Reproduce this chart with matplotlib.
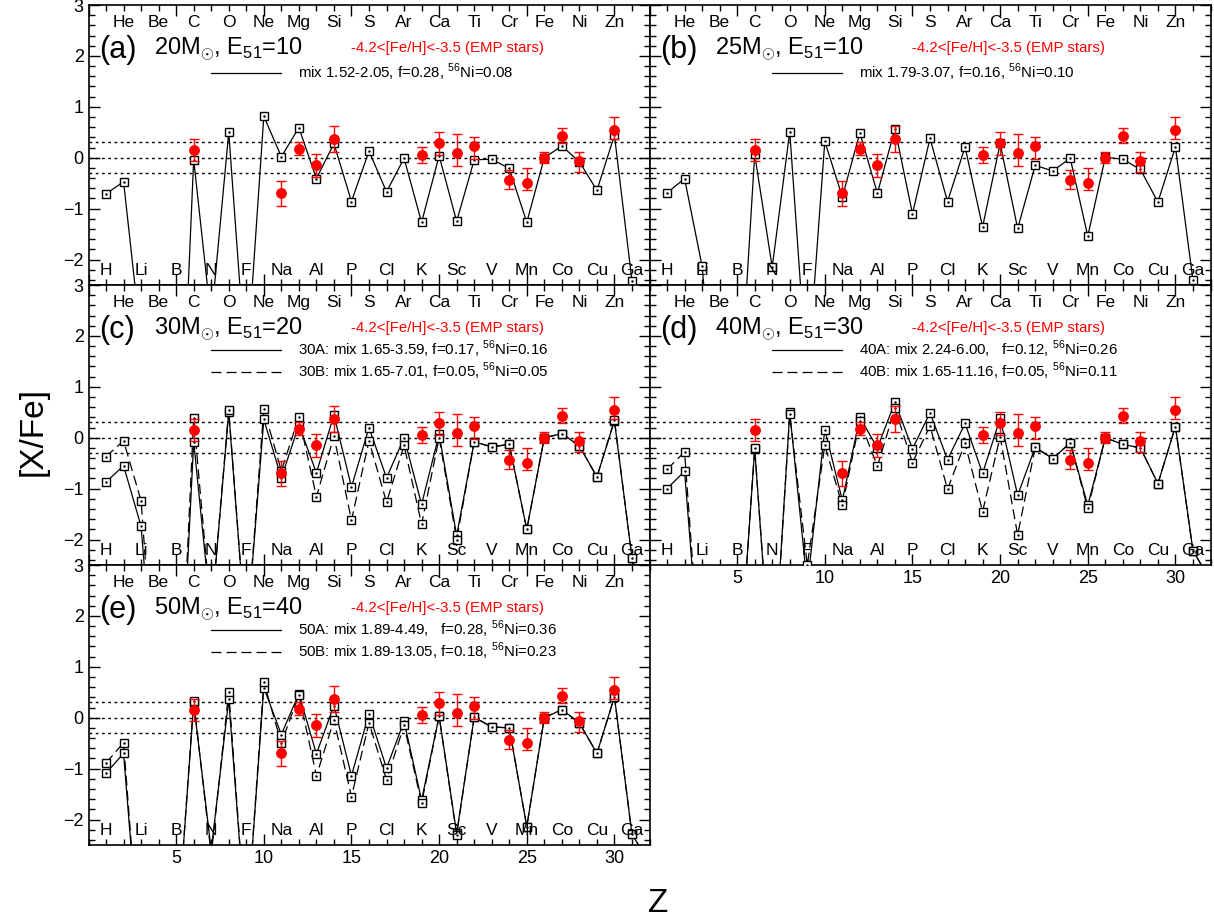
import matplotlib.pyplot as plt
from matplotlib.ticker import MultipleLocator

plt.rcParams['font.family'] = ['Liberation Sans', 'DejaVu Sans']
plt.rcParams['mathtext.fontset'] = 'custom'
plt.rcParams['mathtext.rm'] = 'Liberation Sans'

elements = ['H', 'He', 'Li', 'Be', 'B', 'C', 'N', 'O', 'F', 'Ne', 'Na', 'Mg', 'Al', 'Si', 'P',
            'S', 'Cl', 'Ar', 'K', 'Ca', 'Sc', 'Ti', 'V', 'Cr', 'Mn', 'Fe', 'Co', 'Ni', 'Cu',
            'Zn', 'Ga']
z = list(range(1, 33))  # H ... Ge (Ge only used so the line leaves the frame)

# EMP star average, -4.2<[Fe/H]<-3.5
obs_z = [6, 11, 12, 13, 14, 19, 20, 21, 22, 24, 25, 26, 27, 28, 30]
obs_val = [0.16, -0.69, 0.17, -0.15, 0.36, 0.05, 0.29, 0.09, 0.24, -0.44, -0.50, 0.00, 0.42, -0.07, 0.535]
obs_lo = [0.23, 0.26, 0.12, 0.22, 0.25, 0.15, 0.23, 0.25, 0.26, 0.17, 0.13, 0.11, 0.13, 0.22, 0.175]
obs_hi = [0.21, 0.23, 0.14, 0.23, 0.27, 0.16, 0.22, 0.37, 0.17, 0.20, 0.30, 0.12, 0.17, 0.19, 0.265]

m20 = [-0.71, -0.47, -3.6, -6.0, -8.0, -0.04, -3.2, 0.50, -4.25, 0.815, 0.02, 0.59, -0.41, 0.28,
       -0.86, 0.13, -0.67, -0.01, -1.27, 0.04, -1.25, -0.04, -0.03, -0.21, -1.27, 0.00, 0.23,
       -0.08, -0.64, 0.44, -2.42, -3.5]
m25 = [-0.69, -0.41, -2.13, -6.0, -5.6, 0.065, -2.15, 0.51, -4.4, 0.32, -0.77, 0.49, -0.70, 0.57,
       -1.10, 0.38, -0.86, 0.21, -1.36, 0.28, -1.39, -0.15, -0.26, -0.01, -1.54, 0.01, -0.03,
       -0.23, -0.87, 0.21, -2.41, -3.5]
m30a = [-0.87, -0.55, -1.74, -6.0, -7.0, -0.08, -3.5, 0.50, -4.0, 0.36, -0.79, 0.25, -0.69, 0.45,
        -0.97, 0.20, -0.79, 0.00, -1.31, 0.07, -1.92, -0.08, -0.18, -0.13, -1.80, 0.00, 0.08,
        -0.16, -0.77, 0.33, -2.36, -4.0]
m30b = [-0.37, -0.06, -1.24, -6.0, -7.0, 0.38, -3.5, 0.55, -4.0, 0.56, -0.65, 0.41, -1.16, 0.03,
        -1.62, -0.06, -1.27, -0.15, -1.70, 0.00, -2.00, -0.08, -0.18, -0.13, -1.80, 0.00, 0.08,
        -0.16, -0.77, 0.35, -2.36, -4.0]
m40a = [-1.00, -0.66, -5.0, -7.0, -5.2, -0.22, -5.0, 0.50, -2.9, 0.16, -1.23, 0.40, -0.20, 0.70,
        -0.22, 0.49, -0.43, 0.28, -0.70, 0.38, -1.13, -0.19, -0.41, -0.10, -1.33, 0.00, -0.13,
        -0.20, -0.90, 0.22, -2.22, -2.8]
m40b = [-0.62, -0.28, -5.0, -7.0, -5.2, -0.20, -5.0, 0.46, -2.5, -0.15, -1.33, 0.33, -0.56, 0.58,
        -0.49, 0.23, -1.01, -0.11, -1.45, 0.02, -1.91, -0.19, -0.41, -0.10, -1.39, 0.00, -0.13,
        -0.20, -0.90, 0.22, -2.22, -2.8]
m50a = [-1.09, -0.70, -5.0, -7.0, -4.5, 0.28, -2.6, 0.36, -4.2, 0.59, -0.33, 0.47, -0.71, 0.24,
        -1.14, 0.08, -0.99, -0.07, -1.62, 0.03, -2.27, 0.01, -0.18, -0.20, -2.14, 0.00, 0.16,
        -0.10, -0.70, 0.41, -2.29, -2.85]
m50b = [-0.89, -0.49, -5.0, -7.0, -4.5, 0.33, -2.7, 0.51, -4.2, 0.70, -0.50, 0.45, -1.14, -0.05,
        -1.55, -0.10, -1.22, -0.15, -1.68, 0.03, -2.30, 0.01, -0.18, -0.20, -2.14, 0.00, 0.16,
        -0.10, -0.70, 0.41, -2.29, -2.85]

panels = [
    ('(a)', r'20M$_{\odot}$, E$_{51}$=10', m20, r'mix 1.52-2.05, f=0.28, $^{56}$Ni=0.08', None, None),
    ('(b)', r'25M$_{\odot}$, E$_{51}$=10', m25, r'mix 1.79-3.07, f=0.16, $^{56}$Ni=0.10', None, None),
    ('(c)', r'30M$_{\odot}$, E$_{51}$=20', m30a, r'30A: mix 1.65-3.59, f=0.17, $^{56}$Ni=0.16',
     m30b, r'30B: mix 1.65-7.01, f=0.05, $^{56}$Ni=0.05'),
    ('(d)', r'40M$_{\odot}$, E$_{51}$=30', m40a, r'40A: mix 2.24-6.00,   f=0.12, $^{56}$Ni=0.26',
     m40b, r'40B: mix 1.65-11.16, f=0.05, $^{56}$Ni=0.11'),
    ('(e)', r'50M$_{\odot}$, E$_{51}$=40', m50a, r'50A: mix 1.89-4.49,   f=0.28, $^{56}$Ni=0.36',
     m50b, r'50B: mix 1.89-13.05, f=0.18, $^{56}$Ni=0.23'),
]

fig = plt.figure(figsize=(12.14, 9.24), dpi=100)

W, H = 561 / 1214, 280 / 924
x0 = 88.5 / 1214
y_top = 1 - 5 / 924

for i, (tag, title, ya, laba, yb, labb) in enumerate(panels):
    row, col = i // 2, i % 2
    ax = fig.add_axes([x0 + col * W, y_top - (row + 1) * H, W, H])
    ax.set_xlim(0, 32)
    ax.set_ylim(-2.5, 3)

    for v in (-0.3, 0.0, 0.3):
        ax.axhline(v, color='k', lw=1, ls=(0, (2, 2.5)), zorder=1)

    handles = []
    la, = ax.plot(z, ya, color='k', lw=0.9, label=laba, zorder=2)
    handles.append(la)
    ax.plot(z, ya, ls='none', marker='s', ms=5.5, mfc='white', mec='k', mew=1, zorder=3)
    ax.plot(z, ya, ls='none', marker='.', ms=1.5, color='k', zorder=3)
    if yb is not None:
        lb, = ax.plot(z, yb, color='k', lw=0.9, dashes=(8, 4), label=labb, zorder=2)
        handles.append(lb)
        ax.plot(z, yb, ls='none', marker='s', ms=5.5, mfc='white', mec='k', mew=1, zorder=3)
        ax.plot(z, yb, ls='none', marker='.', ms=1.5, color='k', zorder=3)

    ax.errorbar(obs_z, obs_val, yerr=[obs_lo, obs_hi], fmt='o', color='red', ecolor='red',
                ms=6.8, elinewidth=1, capsize=3.5, capthick=1, zorder=5)

    for k, el in enumerate(elements):
        zz = k + 1
        ax.text(zz, 2.65 if zz % 2 == 0 else -2.22, el, ha='center', va='center', fontsize=12.5)

    ax.text(0.6, 2.12, tag, fontsize=22, ha='left', va='center')
    ax.text(3.75, 2.12, title, fontsize=17, ha='left', va='center')
    ax.text(14.97, 2.16, '-4.2<[Fe/H]<-3.5 (EMP stars)', color='red', fontsize=10.8,
            ha='left', va='center')

    ycen = 1.67 if yb is None else 1.515
    ax.legend(handles=handles, loc='center left',
              bbox_to_anchor=(6.96 / 32, (ycen + 2.5) / 5.5), frameon=False,
              borderpad=0, borderaxespad=0, handlelength=4.7, handletextpad=1.1,
              labelspacing=0.05, fontsize=10.8)

    ax.xaxis.set_major_locator(MultipleLocator(5))
    ax.xaxis.set_minor_locator(MultipleLocator(1))
    ax.yaxis.set_major_locator(MultipleLocator(1))
    ax.yaxis.set_minor_locator(MultipleLocator(0.2))
    ax.tick_params(which='both', direction='in', top=True, right=True, labelsize=13, width=1)
    ax.tick_params(which='major', length=8)
    ax.tick_params(which='minor', length=4)
    for s in ax.spines.values():
        s.set_linewidth(1.2)

    if row < 2 and not (row == 1 and col == 1):
        ax.tick_params(labelbottom=False)
    else:
        ax.set_xticks([5, 10, 15, 20, 25, 30])
    if col == 1:
        ax.tick_params(labelleft=False)

fig.text(0.027, 0.533, '[X/Fe]', rotation=90, fontsize=24, ha='center', va='center')
fig.text(0.542, 0.022, 'Z', fontsize=24, ha='center', va='center')

fig.savefig('out.png', dpi=100)
